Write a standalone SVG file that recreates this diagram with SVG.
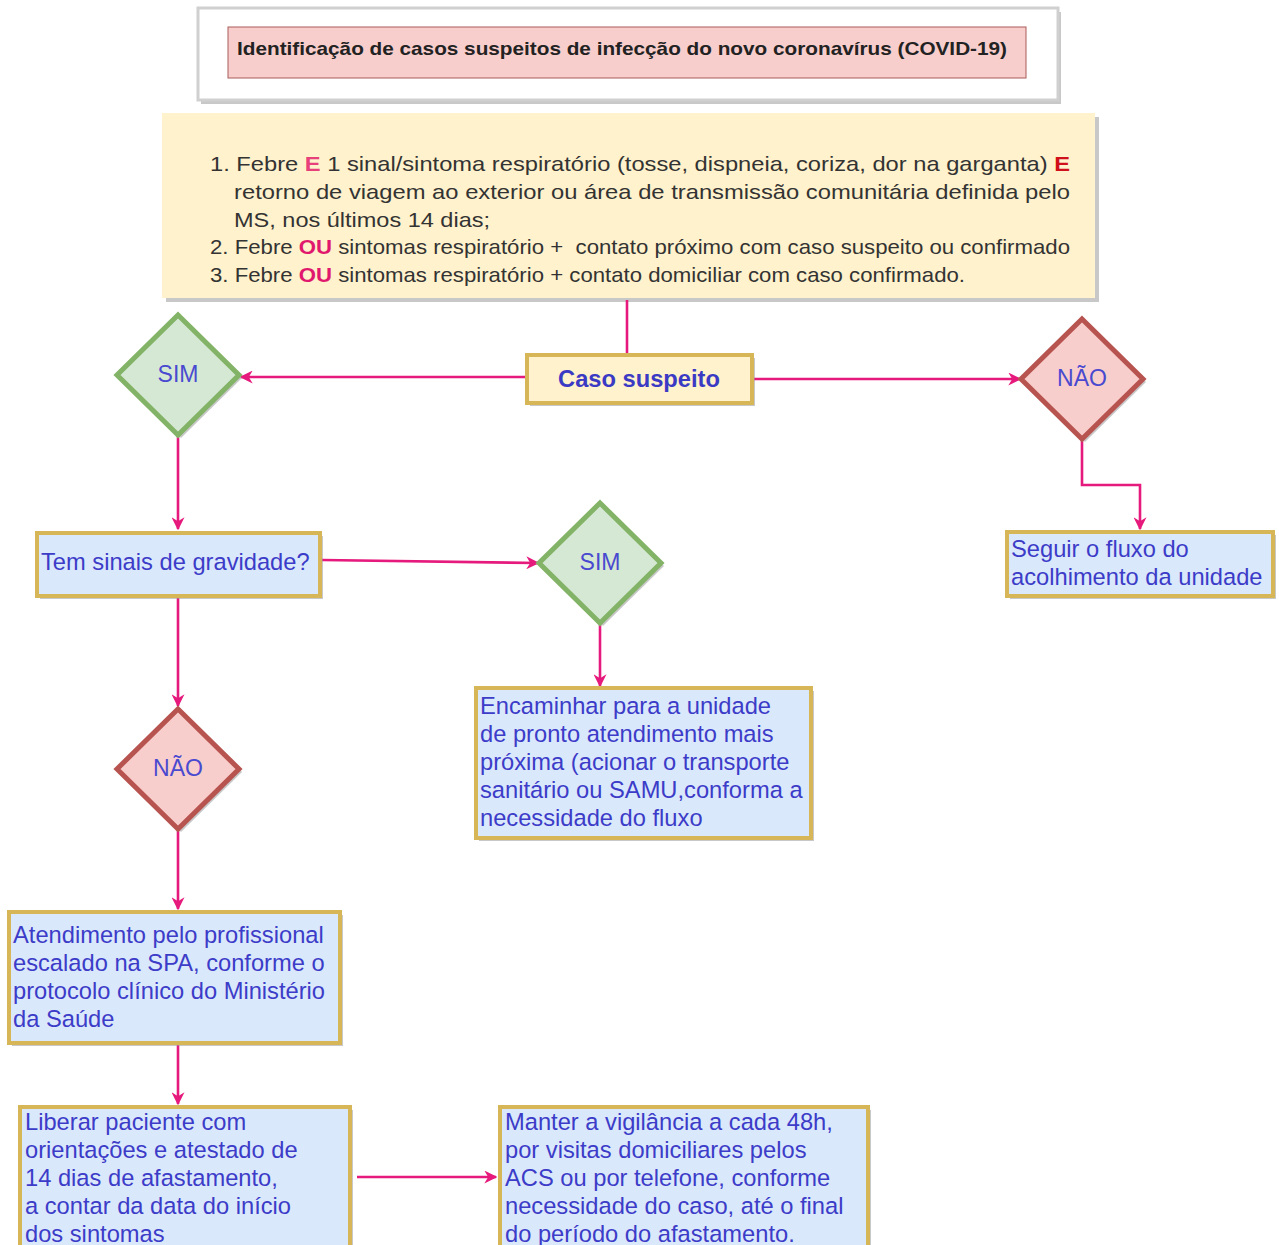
<svg xmlns="http://www.w3.org/2000/svg" width="1279" height="1245" viewBox="0 0 1279 1245">
<defs>
<style>
.bx{fill:#dae8fc;stroke:#d6b656;stroke-width:4}
.yb{fill:#fff2cc;stroke:#d6b656;stroke-width:4}
.sh{fill:#9a9a9a;opacity:0.55}
.gd{fill:#d5e8d4;stroke:#82b366;stroke-width:5}
.rd{fill:#f8cecc;stroke:#b85450;stroke-width:5}
.bt{font-family:"Liberation Sans",Arial,sans-serif;font-size:23.7px;fill:#3c3cc8}
.dt{font-family:"Liberation Sans",Arial,sans-serif;font-size:23px;fill:#4a4ad0;text-anchor:middle}
.ct{font-family:"Liberation Sans",Arial,sans-serif;font-size:21px;fill:#333}
.e1{font-weight:bold;fill:#e8407a}
.e2{font-weight:bold;fill:#d0101a}
.ou{font-weight:bold;fill:#e0186e}
.cn{fill:none;stroke:#e6197c;stroke-width:2.6}
</style>
<marker id="ah" viewBox="0 0 10 10" refX="9" refY="5" markerWidth="13" markerHeight="13" markerUnits="userSpaceOnUse" orient="auto">
<path d="M0,0 L10,5 L0,10 L3,5 z" fill="#e6197c"/>
</marker>
</defs>
<rect width="1279" height="1245" fill="#ffffff"/>

<g id="title">
<rect x="201" y="12" width="860" height="92" class="sh"/>
<rect x="198" y="8" width="860" height="92" fill="#ffffff" stroke="#d0d0d0" stroke-width="3"/>
<rect x="228" y="27" width="798" height="51" fill="#f8cecc" stroke="#a85c5a" stroke-width="1"/>
<text x="237" y="55" font-family="'Liberation Sans',Arial,sans-serif" font-size="18.5" font-weight="bold" fill="#222" textLength="770" lengthAdjust="spacingAndGlyphs">Identificação de casos suspeitos de infecção do novo coronavírus (COVID-19)</text>
</g>

<g id="criteria">
<rect x="166" y="117" width="933" height="185" class="sh"/>
<rect x="162" y="113" width="933" height="185" fill="#fff2cc"/>
<text class="ct" x="210" y="171" textLength="860" lengthAdjust="spacingAndGlyphs">1. Febre <tspan class="e1">E</tspan> 1 sinal/sintoma respiratório (tosse, dispneia, coriza, dor na garganta) <tspan class="e2">E</tspan></text>
<text class="ct" x="234" y="199" textLength="836" lengthAdjust="spacingAndGlyphs">retorno de viagem ao exterior ou área de transmissão comunitária definida pelo</text>
<text class="ct" x="234" y="227" textLength="256" lengthAdjust="spacingAndGlyphs">MS, nos últimos 14 dias;</text>
<text class="ct" x="210" y="254" textLength="860" lengthAdjust="spacingAndGlyphs" xml:space="preserve">2. Febre <tspan class="ou">OU</tspan> sintomas respiratório +  contato próximo com caso suspeito ou confirmado</text>
<text class="ct" x="210" y="282" textLength="755" lengthAdjust="spacingAndGlyphs">3. Febre <tspan class="ou">OU</tspan> sintomas respiratório + contato domiciliar com caso confirmado.</text>
</g>

<g id="connectors">
<path class="cn" d="M627,300 V355"/>
<path class="cn" d="M527,377 H241" marker-end="url(#ah)"/>
<path class="cn" d="M753,379 H1020" marker-end="url(#ah)"/>
<path class="cn" d="M1082,439 V485 H1140 V529" marker-end="url(#ah)"/>
<path class="cn" d="M178,435 V529" marker-end="url(#ah)"/>
<path class="cn" d="M322,560 L538,563" marker-end="url(#ah)"/>
<path class="cn" d="M600,623 V686" marker-end="url(#ah)"/>
<path class="cn" d="M178,597 V706" marker-end="url(#ah)"/>
<path class="cn" d="M178,829 V909" marker-end="url(#ah)"/>
<path class="cn" d="M178,1044 V1104" marker-end="url(#ah)"/>
<path class="cn" d="M357,1177 H496" marker-end="url(#ah)"/>
</g>

<g id="caso">
<rect x="530" y="358" width="225" height="48" class="sh"/>
<rect x="527" y="355" width="225" height="48" class="yb"/>
<text x="639" y="387" font-family="'Liberation Sans',Arial,sans-serif" font-size="23.7" font-weight="bold" fill="#3a3ac4" text-anchor="middle">Caso suspeito</text>
</g>

<g id="sim1">
<path d="M181,318 L242,378 L181,438 L120,378 Z" class="sh"/>
<path d="M178,315 L239,375 L178,435 L117,375 Z" class="gd"/>
<text class="dt" x="178" y="382">SIM</text>
</g>

<g id="nao1">
<path d="M1085,322 L1146,382 L1085,442 L1024,382 Z" class="sh"/>
<path d="M1082,319 L1143,379 L1082,439 L1021,379 Z" class="rd"/>
<text class="dt" x="1082" y="386">NÃO</text>
</g>

<g id="seguir">
<rect x="1010" y="535" width="266" height="64" class="sh"/>
<rect x="1007" y="532" width="266" height="64" class="bx"/>
<text class="bt" x="1011" y="557">Seguir o fluxo do</text>
<text class="bt" x="1011" y="585">acolhimento da unidade</text>
</g>

<g id="gravidade">
<rect x="40" y="536" width="283" height="63" class="sh"/>
<rect x="37" y="533" width="283" height="63" class="bx"/>
<text class="bt" x="41" y="570">Tem sinais de gravidade?</text>
</g>

<g id="sim2">
<path d="M603,506 L664,566 L603,626 L542,566 Z" class="sh"/>
<path d="M600,503 L661,563 L600,623 L539,563 Z" class="gd"/>
<text class="dt" x="600" y="570">SIM</text>
</g>

<g id="encaminhar">
<rect x="479" y="691" width="335" height="150" class="sh"/>
<rect x="476" y="688" width="335" height="150" class="bx"/>
<text class="bt" x="480" y="714">Encaminhar para a unidade</text>
<text class="bt" x="480" y="742">de pronto atendimento mais</text>
<text class="bt" x="480" y="770">próxima (acionar o transporte</text>
<text class="bt" x="480" y="798">sanitário ou SAMU,conforma a</text>
<text class="bt" x="480" y="826">necessidade do fluxo</text>
</g>

<g id="nao2">
<path d="M181,712 L242,772 L181,832 L120,772 Z" class="sh"/>
<path d="M178,709 L239,769 L178,829 L117,769 Z" class="rd"/>
<text class="dt" x="178" y="776">NÃO</text>
</g>

<g id="atendimento">
<rect x="12" y="915" width="331" height="131" class="sh"/>
<rect x="9" y="912" width="331" height="131" class="bx"/>
<text class="bt" x="13" y="943">Atendimento pelo profissional</text>
<text class="bt" x="13" y="971">escalado na SPA, conforme o</text>
<text class="bt" x="13" y="999">protocolo clínico do Ministério</text>
<text class="bt" x="13" y="1027">da Saúde</text>
</g>

<g id="liberar">
<rect x="23" y="1110" width="330" height="150" class="sh"/>
<rect x="20" y="1107" width="330" height="150" class="bx"/>
<text class="bt" x="25" y="1130">Liberar paciente com</text>
<text class="bt" x="25" y="1158">orientações e atestado de</text>
<text class="bt" x="25" y="1186">14 dias de afastamento,</text>
<text class="bt" x="25" y="1214">a contar da data do início</text>
<text class="bt" x="25" y="1242">dos sintomas</text>
</g>

<g id="manter">
<rect x="503" y="1110" width="368" height="150" class="sh"/>
<rect x="500" y="1107" width="368" height="150" class="bx"/>
<text class="bt" x="505" y="1130">Manter a vigilância a cada 48h,</text>
<text class="bt" x="505" y="1158">por visitas domiciliares pelos</text>
<text class="bt" x="505" y="1186">ACS ou por telefone, conforme</text>
<text class="bt" x="505" y="1214">necessidade do caso, até o final</text>
<text class="bt" x="505" y="1242">do período do afastamento.</text>
</g>
</svg>
